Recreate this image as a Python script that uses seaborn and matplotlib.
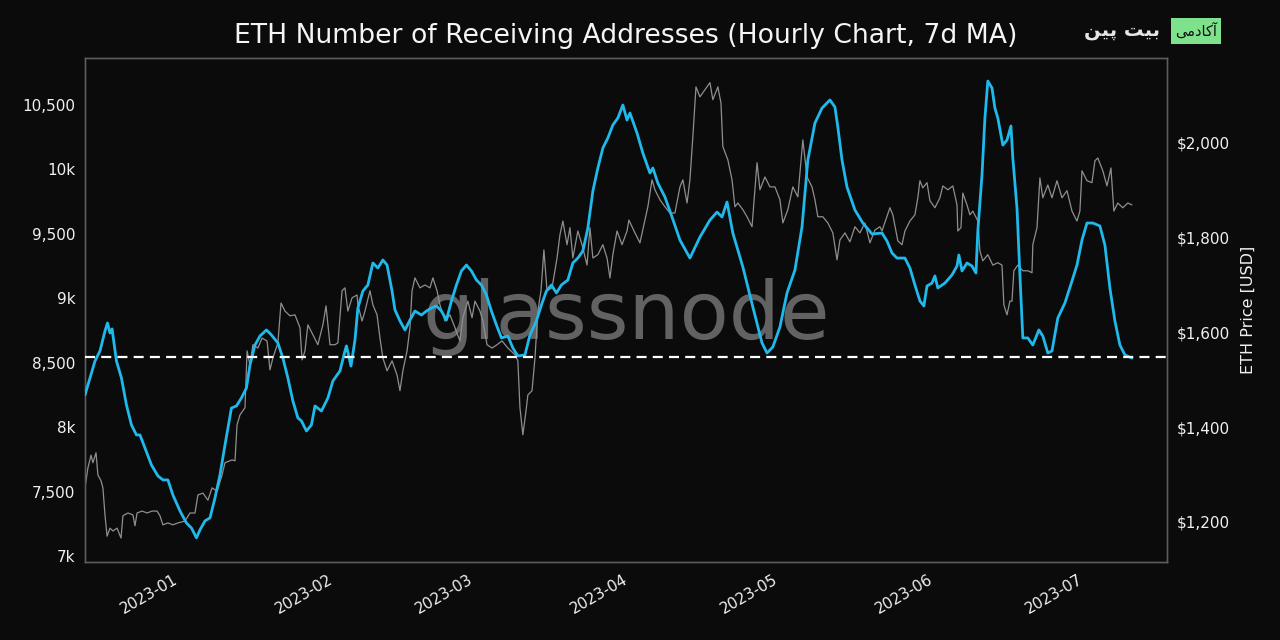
import matplotlib
matplotlib.use("Agg")
import matplotlib.pyplot as plt
import matplotlib.dates as mdates
from matplotlib.ticker import FuncFormatter, FixedLocator
import seaborn as sns
import pandas as pd

# ---------------- data ----------------
addr_dates = [
    "2022-12-13 00", "2022-12-15 00", "2022-12-16 00", "2022-12-17 00", "2022-12-17 12", "2022-12-18 00",
    "2022-12-18 10", "2022-12-19 07", "2022-12-20 07", "2022-12-21 07", "2022-12-22 07", "2022-12-23 07",
    "2022-12-24 00", "2022-12-25 00", "2022-12-26 07", "2022-12-27 14", "2022-12-28 14", "2022-12-29 14",
    "2022-12-30 14", "2023-01-01 00", "2023-01-02 07", "2023-01-03 07", "2023-01-04 07", "2023-01-05 00",
    "2023-01-06 00", "2023-01-07 00", "2023-01-08 00", "2023-01-09 00", "2023-01-10 00", "2023-01-11 07",
    "2023-01-12 07", "2023-01-13 07", "2023-01-14 07", "2023-01-15 00", "2023-01-16 00", "2023-01-17 00",
    "2023-01-18 07", "2023-01-19 07", "2023-01-20 14", "2023-01-21 14", "2023-01-22 14", "2023-01-23 14",
    "2023-01-24 14", "2023-01-25 07", "2023-01-26 07", "2023-01-27 07", "2023-01-28 00", "2023-01-29 07",
    "2023-01-30 14", "2023-01-31 14", "2023-02-02 00", "2023-02-03 00", "2023-02-03 07", "2023-02-04 05",
    "2023-02-05 00", "2023-02-05 14", "2023-02-06 14", "2023-02-07 14", "2023-02-08 14", "2023-02-09 14",
    "2023-02-10 14", "2023-02-11 10", "2023-02-12 10", "2023-02-13 00", "2023-02-14 00", "2023-02-15 00",
    "2023-02-16 00", "2023-02-17 00", "2023-02-18 07", "2023-02-19 07", "2023-02-20 07", "2023-02-21 07",
    "2023-02-22 07", "2023-02-23 07", "2023-02-24 07", "2023-02-25 07", "2023-02-26 07",
    "2023-02-27 07", "2023-02-28 07", "2023-03-01 07", "2023-03-02 07", "2023-03-03 07", "2023-03-04 07",
    "2023-03-05 07", "2023-03-06 07", "2023-03-07 14", "2023-03-08 14", "2023-03-09 14", "2023-03-11 00",
    "2023-03-12 00", "2023-03-13 07", "2023-03-14 07", "2023-03-15 07", "2023-03-16 07", "2023-03-17 07",
    "2023-03-18 07", "2023-03-19 14", "2023-03-20 14", "2023-03-21 14", "2023-03-22 14", "2023-03-23 14",
    "2023-03-24 14", "2023-03-25 14", "2023-03-26 14", "2023-03-27 14", "2023-03-28 14", "2023-03-29 14",
    "2023-03-30 14", "2023-03-31 10", "2023-04-01 00", "2023-04-02 10", "2023-04-03 14", "2023-04-05 00",
    "2023-04-05 14", "2023-04-06 14", "2023-04-08 00", "2023-04-09 10", "2023-04-11 00", "2023-04-13 00",
    "2023-04-15 00", "2023-04-17 00", "2023-04-18 10", "2023-04-19 10", "2023-04-20 10", "2023-04-21 14",
    "2023-04-23 14", "2023-04-25 14", "2023-04-27 10", "2023-04-28 10",
    "2023-04-29 14", "2023-05-01 00", "2023-05-02 10", "2023-05-04 00", "2023-05-05 10", "2023-05-06 14",
    "2023-05-08 00", "2023-05-09 10", "2023-05-11 00", "2023-05-12 00", "2023-05-12 14", "2023-05-13 10",
    "2023-05-14 10", "2023-05-16 00", "2023-05-17 14", "2023-05-19 10", "2023-05-21 10", "2023-05-22 10",
    "2023-05-23 10", "2023-05-24 10", "2023-05-26 00", "2023-05-27 00", "2023-05-28 00", "2023-05-29 00",
    "2023-05-29 19",
    "2023-05-30 10", "2023-05-31 10", "2023-06-01 00", "2023-06-01 14", "2023-06-03 00", "2023-06-04 10",
    "2023-06-05 10", "2023-06-05 19", "2023-06-06 10", "2023-06-07 10", "2023-06-08 10", "2023-06-09 05",
    "2023-06-09 14", "2023-06-10 10", "2023-06-11 00", "2023-06-11 14", "2023-06-12 10", "2023-06-13 00",
    "2023-06-13 14", "2023-06-14 14", "2023-06-15 10", "2023-06-16 05", "2023-06-16 14", "2023-06-17 10",
    "2023-06-18 00", "2023-06-18 14", "2023-06-19 14", "2023-06-20 14", "2023-06-21 19", "2023-06-22 14",
    "2023-06-23 14", "2023-06-24 10", "2023-06-25 14", "2023-06-27 00", "2023-06-28 10",
    "2023-06-29 10", "2023-06-30 10", "2023-07-01 10", "2023-07-02 14", "2023-07-04 00", "2023-07-05 00",
    "2023-07-06 00", "2023-07-07 00", "2023-07-08 00", "2023-07-09 00", "2023-07-10 10",
]
addr_values = [
    8249, 8513, 8591, 8746, 8808, 8730, 8762, 8513, 8381, 8172, 8017, 7939, 7939, 7838, 7706, 7621, 7590, 7590,
    7473, 7349, 7256, 7217, 7140, 7202, 7272, 7295, 7450, 7629, 7861, 8148, 8164, 8226, 8304, 8482, 8637, 8707,
    8754, 8715, 8653, 8536, 8381, 8203, 8071, 8048, 7970, 8017, 8164, 8125,
    8226, 8358, 8436, 8591, 8630, 8474, 8676, 8924, 9056, 9103, 9274, 9235, 9297, 9258, 9056, 8909, 8824, 8754,
    8831, 8901, 8870, 8901, 8924, 8940, 8901, 8831, 8979, 9103, 9212,
    9258, 9212, 9142, 9103, 9025, 8901, 8793, 8692, 8707, 8614, 8552, 8560, 8715, 8824, 8948, 9056, 9103, 9041,
    9103, 9142, 9274, 9312, 9367, 9545, 9832, 10011, 10166, 10244, 10345, 10399,
    10500, 10383, 10438, 10282, 10127, 9972, 10011, 9894, 9786, 9631, 9452, 9312, 9475, 9607, 9669, 9631, 9747,
    9506, 9243, 8932, 8653, 8575,
    8622, 8777, 9041, 9219, 9553, 10073, 10360, 10476, 10539, 10484, 10329, 10073, 9863, 9685, 9584, 9499, 9506,
    9444, 9351, 9312, 9312, 9235, 9103, 8979, 8940,
    9095, 9118, 9173, 9080, 9118, 9181, 9250, 9336, 9212, 9274, 9250, 9196, 9522, 9957, 10399, 10686, 10632,
    10476, 10399, 10189, 10228, 10337, 10088, 9700, 9181, 8692, 8692, 8637, 8754, 8707, 8575, 8591, 8847, 8963,
    9134,
    9258, 9452, 9584, 9584, 9561, 9413, 9080, 8824, 8637, 8560, 8536,
]

price_dates = [
    "2022-12-13 00", "2022-12-13 14", "2022-12-14 05", "2022-12-14 14", "2022-12-15 05", "2022-12-15 14",
    "2022-12-16 05", "2022-12-16 14", "2022-12-17 00", "2022-12-17 10", "2022-12-18 00", "2022-12-18 14",
    "2022-12-19 10", "2022-12-20 05", "2022-12-20 14", "2022-12-21 14", "2022-12-22 14", "2022-12-23 00",
    "2022-12-23 10", "2022-12-24 10", "2022-12-25 10", "2022-12-26 10", "2022-12-27 10", "2022-12-28 00",
    "2022-12-28 14", "2022-12-29 14",
    "2022-12-30 14", "2022-12-31 14", "2023-01-02 00", "2023-01-03 00", "2023-01-04 00", "2023-01-04 14",
    "2023-01-05 14", "2023-01-06 14", "2023-01-07 10", "2023-01-08 10", "2023-01-09 10", "2023-01-10 00",
    "2023-01-11 10", "2023-01-12 00", "2023-01-12 10", "2023-01-13 00", "2023-01-14 00", "2023-01-14 10",
    "2023-01-15 00", "2023-01-15 14", "2023-01-16 14", "2023-01-17 10", "2023-01-18 10", "2023-01-19 00",
    "2023-01-19 14", "2023-01-20 14", "2023-01-21 05", "2023-01-22 00", "2023-01-23 00", "2023-01-24 00",
    "2023-01-25 00", "2023-01-25 10", "2023-01-26 00", "2023-01-26 14", "2023-01-27 14", "2023-01-28 14",
    "2023-01-29 14",
    "2023-01-30 05", "2023-01-31 00", "2023-02-01 00", "2023-02-01 14", "2023-02-02 10", "2023-02-03 00",
    "2023-02-03 14", "2023-02-04 10", "2023-02-05 10", "2023-02-05 14", "2023-02-06 10", "2023-02-07 00",
    "2023-02-08 00", "2023-02-08 14", "2023-02-09 10", "2023-02-10 00", "2023-02-10 14", "2023-02-11 10",
    "2023-02-12 10", "2023-02-13 10", "2023-02-14 00", "2023-02-14 14", "2023-02-15 10", "2023-02-16 00",
    "2023-02-16 10", "2023-02-17 00", "2023-02-18 00", "2023-02-19 00", "2023-02-20 00", "2023-02-20 14",
    "2023-02-21 10", "2023-02-22 00", "2023-02-23 00", "2023-02-24 00", "2023-02-25 00", "2023-02-26 00",
    "2023-02-26 14",
    "2023-02-27 14", "2023-02-28 10", "2023-03-01 00", "2023-03-02 00", "2023-03-02 14", "2023-03-03 10",
    "2023-03-04 10", "2023-03-05 10", "2023-03-06 10", "2023-03-07 14", "2023-03-09 00", "2023-03-09 14",
    "2023-03-10 00", "2023-03-10 14", "2023-03-11 05", "2023-03-11 14", "2023-03-12 10", "2023-03-13 00",
    "2023-03-13 14", "2023-03-14 05", "2023-03-14 19", "2023-03-15 10", "2023-03-16 10", "2023-03-17 10",
    "2023-03-18 00", "2023-03-18 14", "2023-03-19 10", "2023-03-20 00", "2023-03-20 14", "2023-03-21 14",
    "2023-03-22 10", "2023-03-23 10", "2023-03-24 00", "2023-03-24 14", "2023-03-25 14", "2023-03-26 14",
    "2023-03-27 10", "2023-03-28 00", "2023-03-28 14", "2023-03-29 10",
    "2023-03-30 10", "2023-03-31 10", "2023-03-31 19", "2023-04-02 00", "2023-04-03 00", "2023-04-04 00",
    "2023-04-04 14", "2023-04-05 10", "2023-04-06 00", "2023-04-07 00", "2023-04-08 00", "2023-04-09 00",
    "2023-04-10 00", "2023-04-11 00", "2023-04-11 14", "2023-04-12 10", "2023-04-13 00", "2023-04-13 14",
    "2023-04-14 05", "2023-04-15 00", "2023-04-16 00", "2023-04-17 00", "2023-04-17 14", "2023-04-18 14",
    "2023-04-19 05", "2023-04-19 14", "2023-04-20 14", "2023-04-21 10", "2023-04-22 00", "2023-04-22 14",
    "2023-04-23 14", "2023-04-24 10", "2023-04-25 10", "2023-04-26 10", "2023-04-27 00", "2023-04-28 00",
    "2023-04-29 00", "2023-04-30 00", "2023-05-01 00", "2023-05-01 14", "2023-05-02 14", "2023-05-03 14",
    "2023-05-04 14", "2023-05-05 14", "2023-05-06 10", "2023-05-07 10", "2023-05-08 00", "2023-05-08 14",
    "2023-05-09 14", "2023-05-10 14", "2023-05-11 14", "2023-05-12 10", "2023-05-13 00", "2023-05-14 00",
    "2023-05-15 00", "2023-05-16 00", "2023-05-17 00", "2023-05-18 00", "2023-05-19 00", "2023-05-20 00",
    "2023-05-21 00", "2023-05-21 10", "2023-05-23 00", "2023-05-23 14", "2023-05-24 14", "2023-05-25 10",
    "2023-05-26 00", "2023-05-27 00", "2023-05-28 00", "2023-05-28 14", "2023-05-29 00", "2023-05-29 14",
    "2023-05-30 10", "2023-05-31 00", "2023-06-01 00", "2023-06-02 00", "2023-06-02 14", "2023-06-03 14",
    "2023-06-04 14", "2023-06-05 10", "2023-06-05 14", "2023-06-06 05", "2023-06-06 14", "2023-06-07 10",
    "2023-06-08 00", "2023-06-08 14", "2023-06-09 14", "2023-06-10 00", "2023-06-10 14", "2023-06-11 14",
    "2023-06-12 14", "2023-06-13 14", "2023-06-14 10", "2023-06-14 19", "2023-06-15 10", "2023-06-16 00",
    "2023-06-16 10", "2023-06-16 19", "2023-06-17 14", "2023-06-18 14", "2023-06-19 14", "2023-06-20 10",
    "2023-06-20 14", "2023-06-21 10", "2023-06-22 00", "2023-06-22 14", "2023-06-23 14", "2023-06-24 10",
    "2023-06-25 10", "2023-06-26 10", "2023-06-27 10", "2023-06-28 10",
    "2023-06-29 10", "2023-06-30 00", "2023-06-30 10", "2023-07-01 10", "2023-07-02 10", "2023-07-03 00",
    "2023-07-03 14", "2023-07-04 14", "2023-07-05 10", "2023-07-06 05", "2023-07-06 19", "2023-07-07 14",
    "2023-07-08 14", "2023-07-09 14", "2023-07-10 10",
]
price_values = [
    1272, 1314, 1341, 1325, 1346, 1299, 1287, 1272, 1215, 1170, 1187, 1181, 1187, 1166, 1213, 1219, 1215, 1192,
    1219, 1223, 1219, 1223, 1223, 1213, 1194, 1198,
    1194, 1198, 1202, 1219, 1219, 1257, 1261, 1246, 1272, 1265, 1299, 1325, 1331, 1329, 1405, 1426, 1441, 1561,
    1531, 1574, 1567, 1588, 1582, 1521, 1546, 1578, 1662, 1645, 1635, 1637, 1610, 1542, 1561, 1616, 1595, 1574,
    1616,
    1656, 1574, 1574, 1578, 1688, 1694, 1645, 1673, 1679, 1658, 1624, 1645, 1688, 1658, 1637, 1588, 1546, 1519,
    1540, 1510, 1477, 1519, 1561, 1610, 1688, 1715, 1694, 1700, 1694, 1715, 1688, 1658, 1624, 1637, 1610, 1582,
    1631,
    1666, 1631, 1666, 1645, 1624, 1574, 1567, 1574, 1582, 1567, 1553, 1540, 1441, 1384, 1434, 1468, 1477, 1546,
    1645, 1688, 1774, 1688, 1694, 1757, 1806, 1835, 1785, 1821, 1757, 1814, 1785, 1742, 1821, 1757, 1764, 1785,
    1757, 1715, 1764, 1814,
    1785, 1814, 1837, 1810, 1789, 1837, 1865, 1922, 1901, 1880, 1865, 1852, 1852, 1907, 1922, 1873, 1922, 2013,
    2118, 2097, 2112, 2127, 2091, 2118, 2084, 1992, 1964, 1922, 1865, 1873, 1859, 1844, 1823, 1958, 1901, 1928,
    1907, 1907, 1880, 1831, 1859, 1907, 1886, 2006, 1928, 1907, 1880, 1844, 1844, 1831, 1810, 1753, 1795, 1810,
    1791, 1823, 1810, 1831, 1789, 1816, 1823, 1814, 1863, 1848, 1793, 1785, 1814, 1835, 1848, 1884, 1920, 1905,
    1916, 1878, 1863, 1884, 1909, 1901, 1909, 1869, 1814, 1821, 1894, 1869, 1848, 1856, 1835, 1772, 1751, 1764,
    1742, 1747, 1742, 1658, 1637, 1666, 1666, 1730, 1742, 1730, 1730, 1726, 1785, 1821, 1926, 1884, 1911, 1884,
    1920, 1884, 1899, 1856,
    1835, 1856, 1941, 1920, 1916, 1962, 1968, 1941, 1909, 1947, 1856, 1873, 1863, 1873, 1869,
]

current_level = 8545
month_ticks = ["2023-01-01", "2023-02-01", "2023-03-01", "2023-04-01", "2023-05-01", "2023-06-01", "2023-07-01"]
addr_ticks = [7000, 7500, 8000, 8500, 9000, 9500, 10000, 10500]
price_ticks = [1200, 1400, 1600, 1800, 2000]

title = "ETH Number of Receiving Addresses (Hourly Chart, 7d MA)"
right_label = "ETH Price [USD]"

# ---------------- styling ----------------
BG = "#0b0b0b"
sns.set_theme(style="dark", rc={
    "figure.facecolor": BG, "axes.facecolor": BG, "savefig.facecolor": BG,
    "axes.edgecolor": "#5c5c5c", "text.color": "#f0f0f0",
    "xtick.color": "#f0f0f0", "ytick.color": "#f0f0f0", "axes.labelcolor": "#f0f0f0",
})
plt.rcParams["font.family"] = ["DejaVu Sans"]

addr_df = pd.DataFrame({"date": pd.to_datetime(addr_dates, format="%Y-%m-%d %H"), "value": addr_values})
price_df = pd.DataFrame({"date": pd.to_datetime(price_dates, format="%Y-%m-%d %H"), "value": price_values})

fig = plt.figure(figsize=(12.8, 6.4), dpi=100)
ax = fig.add_subplot(111)
fig.subplots_adjust(left=0.0664, right=0.9117, bottom=0.1219, top=0.9094)
ax2 = ax.twinx()
# price axis drawn underneath the address axis
ax2.set_zorder(ax.get_zorder() - 1)
ax.patch.set_visible(False)
ax2.patch.set_visible(True)
ax2.patch.set_facecolor(BG)

# watermark
ax2.text(0.5, 0.487, "glassnode", transform=ax2.transAxes, ha="center", va="center",
         fontsize=58, color="#626262", zorder=0)

sns.lineplot(data=price_df, x="date", y="value", ax=ax2, color="#8f8f8f", linewidth=0.9,
             estimator=None, zorder=2)
sns.lineplot(data=addr_df, x="date", y="value", ax=ax, color="#1fb9ec", linewidth=2.0,
             estimator=None, zorder=3)
ax.axhline(current_level, color="white", linewidth=1.6, dashes=(4.5, 2.8), zorder=4)

ax.set_xlim(pd.Timestamp("2022-12-13 00:00"), pd.Timestamp("2023-07-17 10:00"))
ax.set_ylim(6953, 10865)
ax2.set_ylim(1115.6, 2179)

ax.xaxis.set_major_locator(FixedLocator(mdates.date2num(pd.to_datetime(month_ticks))))
ax.xaxis.set_major_formatter(mdates.DateFormatter("%Y-%m"))
ax.set_yticks(addr_ticks)
ax.yaxis.set_major_formatter(FuncFormatter(
    lambda v, _: f"{int(v / 1000)}k" if v % 1000 == 0 else f"{int(v):,}"))
ax2.set_yticks(price_ticks)
ax2.yaxis.set_major_formatter(FuncFormatter(lambda v, _: f"${int(v):,}"))

ax.set_xlabel("")
ax.set_ylabel("")
ax2.set_xlabel("")
ax2.set_ylabel(right_label, fontsize=11.5, color="#f0f0f0", labelpad=8)

ax.tick_params(axis="x", length=0, pad=7, labelsize=11)
ax.tick_params(axis="y", length=0, pad=7, labelsize=11)
ax2.tick_params(axis="y", length=0, pad=7, labelsize=11)
for lbl in ax.get_xticklabels():
    lbl.set_rotation(30)
    lbl.set_ha("right")

for a in (ax, ax2):
    for s in a.spines.values():
        s.set_color("#5c5c5c")
        s.set_linewidth(1.0)
ax.grid(False)
ax2.grid(False)

ax.set_title(title, fontsize=19.2, color="#f5f5f5", pad=11)

# top-right brand mark
fig.text(1160 / 1280, 1 - 30 / 640, "\uFEE6\uFEF4\uFB58 \uFE96\uFEF4\uFE91", ha="right", va="center",
         fontsize=14, fontweight="bold", color="#e6e6e6", family=["DejaVu Sans"])
fig.text(1196 / 1280, 1 - 31 / 640, "\uFBFD\uFEE3\uFEA9\uFE8E\uFB90\uFE81", ha="center", va="center",
         fontsize=10.5, color="#111111", family=["DejaVu Sans"],
         bbox=dict(boxstyle="square,pad=0.3", facecolor="#7ee28c", edgecolor="none"))

fig.savefig("out.png", dpi=100, facecolor=BG)
